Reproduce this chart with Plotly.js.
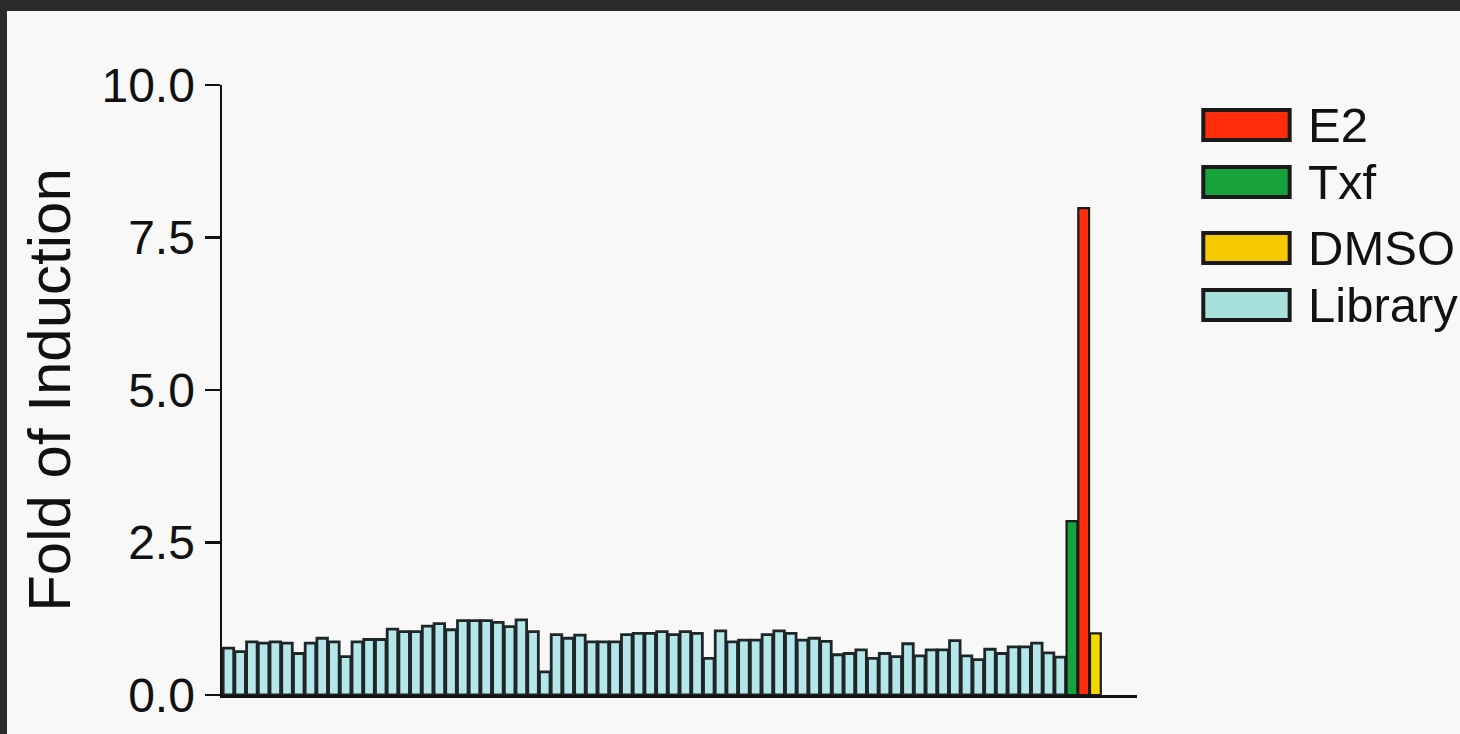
<!DOCTYPE html>
<html>
<head>
<meta charset="utf-8">
<script src="https://cdn.plot.ly/plotly-3.0.1.min.js"></script>
<style>
  html, body { margin: 0; padding: 0; background: #2a2a2a; width: 1460px; height: 734px; overflow: hidden; }
  #chart { position: absolute; left: 7px; top: 11px; width: 1453px; height: 723px; }
</style>
</head>
<body>
<div id="chart"></div>
<script>
// ---- Data ----
const libraryValues = [
  0.77, 0.71, 0.87, 0.85, 0.87, 0.85, 0.68, 0.85, 0.93, 0.87,
  0.63, 0.87, 0.91, 0.91, 1.08, 1.04, 1.04, 1.13, 1.17, 1.07,
  1.22, 1.22, 1.22, 1.19, 1.12, 1.23, 1.04, 0.38, 0.99, 0.93,
  0.98, 0.87, 0.87, 0.87, 0.99, 1.01, 1.01, 1.04, 0.99, 1.04,
  1.01, 0.60, 1.05, 0.87, 0.90, 0.90, 0.99, 1.05, 1.01, 0.90,
  0.93, 0.88, 0.66, 0.68, 0.74, 0.60, 0.68, 0.63, 0.84, 0.64,
  0.74, 0.74, 0.89, 0.64, 0.58, 0.75, 0.68, 0.79, 0.79, 0.85,
  0.69, 0.62
];
const controlNames  = ["Txf", "E2", "DMSO"];
const controlValues = [2.85, 7.98, 1.01];
const controlColors = ["#17a23b", "#ff2d0c", "#f3d900"];
const libraryColor  = "#b4e6ea";

const legendNames  = ["E2", "Txf", "DMSO", "Library"];
const legendColors = ["#ff2d0c", "#17a23b", "#f7c900", "#a8e0dc"];

const yTicks = [0, 2.5, 5, 7.5, 10];
const yTickText = ["0.0", "2.5", "5.0", "7.5", "10.0"];

// ---- Traces ----
const libX = libraryValues.map((v, i) => i);
const traces = [{
  type: "bar", name: "Library", x: libX, y: libraryValues, width: 0.9,
  marker: { color: libraryColor, line: { color: "#1e2628", width: 2.8 } },
  showlegend: false, hoverinfo: "y"
}];
controlNames.forEach((n, k) => {
  traces.push({
    type: "bar", name: n, x: [libraryValues.length + k], y: [controlValues[k]], width: 0.92,
    marker: { color: controlColors[k], line: { color: "#1a1a1a", width: 2.2 } },
    showlegend: false, hoverinfo: "y"
  });
});

// ---- Manual legend (wide swatches as in reference) ----
const shapes = [];
const annotations = [];
const legTop = [110, 167, 233, 290];   // page px of swatch top
const pxX = px => (px - 7 - 215) / 911;            // page px -> paper x
const pxY = py => (734 - 39 - py) / 610;           // page px -> paper y
legendNames.forEach((n, i) => {
  const top = legTop[i], h = 30;
  shapes.push({
    type: "rect", xref: "paper", yref: "paper",
    x0: pxX(1199), x1: pxX(1285), y0: pxY(top + h), y1: pxY(top),
    fillcolor: legendColors[i], line: { color: "#1a1a1a", width: 4 }
  });
  annotations.push({
    xref: "paper", yref: "paper", x: pxX(1301), y: pxY(top + h / 2),
    xanchor: "left", yanchor: "middle", showarrow: false, text: n,
    font: { family: "Liberation Sans, Arial, sans-serif", size: 49, color: "#111" }
  });
});

const layout = {
  width: 1453, height: 723,
  margin: { l: 215, r: 323, t: 74, b: 39 },
  paper_bgcolor: "#f8f8f8", plot_bgcolor: "#f8f8f8",
  barmode: "overlay",
  showlegend: false,
  font: { family: "Liberation Sans, Arial, sans-serif", color: "#111" },
  xaxis: {
    range: [-0.55, 77.55], showgrid: false, zeroline: false,
    showticklabels: false, ticks: "", showline: true, linecolor: "#111", linewidth: 2.5,
    fixedrange: true
  },
  yaxis: {
    range: [0, 10], showgrid: false, zeroline: false,
    tickmode: "array", tickvals: yTicks, ticktext: yTickText,
    ticks: "outside", ticklen: 15, tickwidth: 2.5, tickcolor: "#111",
    showline: true, linecolor: "#111", linewidth: 2.5,
    tickfont: { size: 48, color: "#111" },
    title: { text: "Fold of Induction", font: { size: 60, color: "#111" }, standoff: 12 },
    automargin: false, fixedrange: true
  },
  shapes: shapes,
  annotations: annotations
};

Plotly.newPlot("chart", traces, layout, { displayModeBar: false, staticPlot: true });
</script>
</body>
</html>
